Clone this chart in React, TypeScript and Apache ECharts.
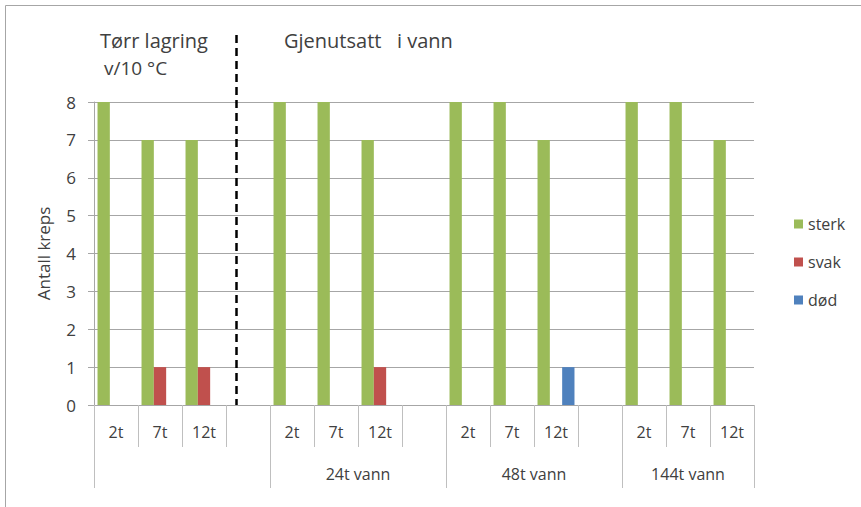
import React, { useEffect, useRef } from "react";
import * as echarts from "echarts";

const categories = ["2t", "7t", "12t", "", "2t", "7t", "12t", "", "2t", "7t", "12t", "", "2t", "7t", "12t"];
const groupLabels = ["", "24t vann", "48t vann", "144t vann"];
const groupBounds = [0, 4, 8, 12, 15];
const sterk = [8, 7, 7, null, 8, 8, 7, null, 8, 8, 7, null, 8, 8, 7];
const svak = [0, 1, 1, null, 0, 0, 1, null, 0, 0, 0, null, 0, 0, 0];
const dod = [0, 0, 0, null, 0, 0, 0, null, 0, 0, 1, null, 0, 0, 0];
const yTicks = [0, 1, 2, 3, 4, 5, 6, 7, 8];

const FONT = "'Open Sans', 'Noto Sans', sans-serif";
const TXT = "#404040";
const GRID = "#a6a6a6";

export default function App() {
  const ref = useRef<HTMLDivElement>(null);
  useEffect(() => {
    if (!ref.current) return;
    const chart = echarts.init(ref.current, undefined, { renderer: "svg" });
    const groupCenters = groupLabels.map((_, i) => (groupBounds[i] + groupBounds[i + 1]) / 2);
    chart.setOption({
      animation: false,
      textStyle: { fontFamily: FONT },
      grid: { left: 94, right: 107, top: 102, bottom: 102, containLabel: false },
      legend: {
        orient: "vertical",
        left: 789,
        top: 211,
        itemWidth: 9,
        itemHeight: 9,
        itemGap: 22,
        icon: "rect",
        textStyle: { fontFamily: FONT, fontSize: 16, color: TXT, lineHeight: 16 },
        data: ["sterk", "svak", "død"],
      },
      xAxis: [
        {
          type: "category",
          data: categories,
          position: "bottom",
          axisLine: { show: true, lineStyle: { color: GRID, width: 1 } },
          axisTick: { show: true, interval: 0, length: 42, lineStyle: { color: "#bfbfbf" } },
          axisLabel: { interval: 0, margin: 19, fontSize: 16, color: TXT, fontFamily: FONT },
          splitLine: { show: false },
        },
        {
          type: "value",
          min: 0,
          max: 15,
          position: "bottom",
          axisLine: { show: false },
          axisTick: {
            show: true,
            customValues: groupBounds,
            length: 83,
            lineStyle: { color: "#bfbfbf" },
          },
          axisLabel: {
            show: true,
            customValues: groupCenters,
            margin: 61,
            fontSize: 16,
            color: TXT,
            fontFamily: FONT,
            formatter: (v: number) => {
              const i = groupCenters.indexOf(v);
              return i >= 0 ? groupLabels[i] : "";
            },
          },
          splitLine: { show: false },
        },
      ],
      yAxis: {
        type: "value",
        min: 0,
        max: 8,
        interval: 1,
        name: "Antall kreps",
        nameLocation: "middle",
        nameGap: 42,
        nameTextStyle: { fontSize: 17, color: TXT, fontFamily: FONT },
        axisLine: { show: true, lineStyle: { color: GRID } },
        axisTick: { show: true, length: 6, lineStyle: { color: GRID } },
        axisLabel: {
          margin: 18,
          fontSize: 17,
          color: TXT,
          fontFamily: FONT,
          formatter: (v: number) => (yTicks.includes(v) ? String(v) : ""),
        },
        splitLine: { show: true, lineStyle: { color: GRID, width: 1 } },
      },
      series: [
        { name: "sterk", type: "bar", data: sterk, itemStyle: { color: "#9bbb59" }, barGap: "0%", barCategoryGap: "16%" },
        { name: "svak", type: "bar", data: svak, itemStyle: { color: "#c0504d" }, barGap: "0%", barCategoryGap: "16%" },
        { name: "død", type: "bar", data: dod, itemStyle: { color: "#4f81bd" }, barGap: "0%", barCategoryGap: "16%" },
      ],
    });
    const dx = chart.convertToPixel({ xAxisIndex: 1 }, 3.23) as number;
    const yBottom = chart.convertToPixel({ yAxisIndex: 0 }, 0) as number;
    chart.setOption({
      graphic: [
        {
          type: "rect",
          shape: { x: 5.5, y: 5.5, width: 900, height: 600 },
          style: { fill: "none", stroke: GRID, lineWidth: 1 },
          silent: true,
        },
        {
          type: "line",
          shape: { x1: Math.round(dx) + 0.5, y1: 35, x2: Math.round(dx) + 0.5, y2: yBottom },
          style: { stroke: "#000", lineWidth: 2.5, lineDash: [8, 5] },
          z: 10,
        },
        {
          type: "text",
          left: 100,
          top: 30,
          style: { text: "Tørr lagring", fontSize: 20, fill: TXT, fontFamily: FONT },
        },
        {
          type: "text",
          left: 104,
          top: 58,
          style: { text: "v/10 °C", fontSize: 19, fill: TXT, fontFamily: FONT },
        },
        {
          type: "text",
          left: 284,
          top: 30,
          style: { text: "Gjenutsatt   i vann", fontSize: 20, fill: TXT, fontFamily: FONT },
        },
      ],
    });
    return () => chart.dispose();
  }, []);
  return (
    <div
      ref={ref}
      style={{ position: "fixed", left: 0, top: 0, width: 861, height: 507, background: "#fff" }}
    />
  );
}
